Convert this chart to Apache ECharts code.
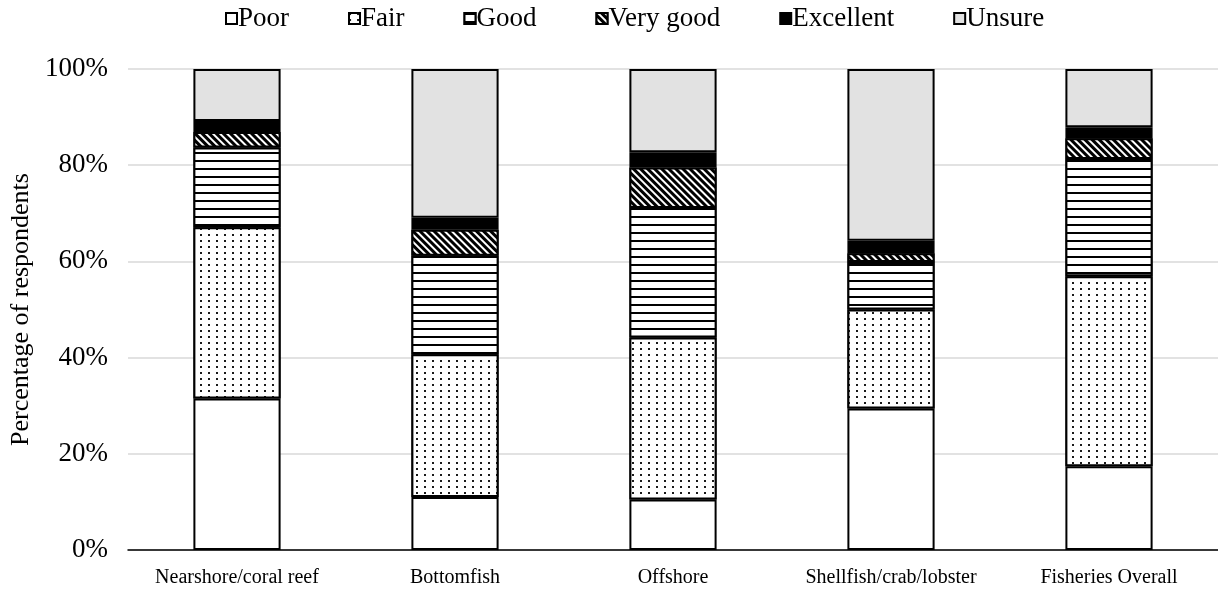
<!DOCTYPE html>
<html>
<head>
<meta charset="utf-8">
<script src="https://cdn.jsdelivr.net/npm/echarts@6/dist/echarts.min.js"></script>
<style>
html,body{margin:0;padding:0;background:#fff;}
#chart{width:1218px;height:592px;}
</style>
</head>
<body>
<div id="chart"></div>
<script>
const categories = ['Nearshore/coral reef', 'Bottomfish', 'Offshore', 'Shellfish/crab/lobster', 'Fisheries Overall'];
const poor      = [31.5, 11.0, 10.5, 29.4, 17.4];
const fair      = [35.6, 29.7, 33.7, 20.6, 39.5];
const good      = [16.6, 20.5, 26.9,  9.9, 24.4];
const veryGood  = [ 3.2,  5.4,  8.4,  1.8,  4.3];
const excellent = [ 2.3,  2.5,  3.2,  2.6,  2.3];
const unsure    = [10.8, 30.9, 17.3, 35.7, 12.1];
const yTicks = [0, 20, 40, 60, 80, 100];

const FONT = '"Liberation Serif", "Times New Roman", serif';

function mk(name, data, color, decal) {
  const s = {
    name: name, type: 'bar', stack: 'all', data: data, barWidth: '40%',
    itemStyle: { color: color, borderColor: '#000', borderWidth: 2 }
  };
  if (decal) s.itemStyle.decal = decal;
  return s;
}

const series = [
  mk('Poor', poor, '#ffffff'),
  mk('Fair', fair, '#ffffff', { symbol: 'rect', symbolSize: 1, color: '#1a1a1a', backgroundColor: '#fff',
        dashArrayX: [1.3, 5.5], dashArrayY: [1.3, 3.5] }),
  mk('Good', good, '#ffffff', { symbol: 'rect', symbolSize: 1, color: '#000', backgroundColor: '#fff',
        dashArrayX: [1, 0], dashArrayY: [2, 6] }),
  mk('Very good', veryGood, '#ffffff', { symbol: 'rect', symbolSize: 1, color: '#000', backgroundColor: '#fff',
        dashArrayX: [1, 0], dashArrayY: [2.2, 1.8], rotation: Math.PI / 4 }),
  mk('Excellent', excellent, '#000000'),
  mk('Unsure', unsure, '#e2e2e2')
];

const chart = echarts.init(document.getElementById('chart'), null, { renderer: 'canvas' });
chart.setOption({
  animation: false,
  backgroundColor: '#fff',
  textStyle: { fontFamily: FONT },
  legend: {
    top: 0, left: 220,
    itemWidth: 11, itemHeight: 11, itemGap: 59,
    icon: 'rect',
    textStyle: { fontFamily: FONT, fontSize: 27, color: '#000', padding: [0, 0, 0, -4] },
    data: ['Poor', 'Fair', 'Good', 'Very good', 'Excellent', 'Unsure']
  },
  grid: { left: 128, top: 69, width: 1093, height: 481, containLabel: false },
  xAxis: {
    type: 'category', data: categories,
    axisLine: { show: true, lineStyle: { color: '#000', width: 1.5 } },
    axisTick: { show: false },
    axisLabel: { fontFamily: FONT, fontSize: 20, color: '#000', margin: 18, interval: 0 }
  },
  yAxis: {
    type: 'value', min: 0, max: 100, interval: 20,
    name: 'Percentage of respondents', nameLocation: 'middle', nameRotate: 90, nameGap: 87,
    nameTextStyle: { fontFamily: FONT, fontSize: 26, color: '#000' },
    axisLine: { show: false }, axisTick: { show: false },
    splitLine: { lineStyle: { color: '#d9d9d9', width: 1.5 } },
    axisLabel: { fontFamily: FONT, fontSize: 27, color: '#000', margin: 20,
      formatter: function (v) { return yTicks.indexOf(v) >= 0 ? v + '%' : ''; } }
  },
  series: series
});
</script>
</body>
</html>
